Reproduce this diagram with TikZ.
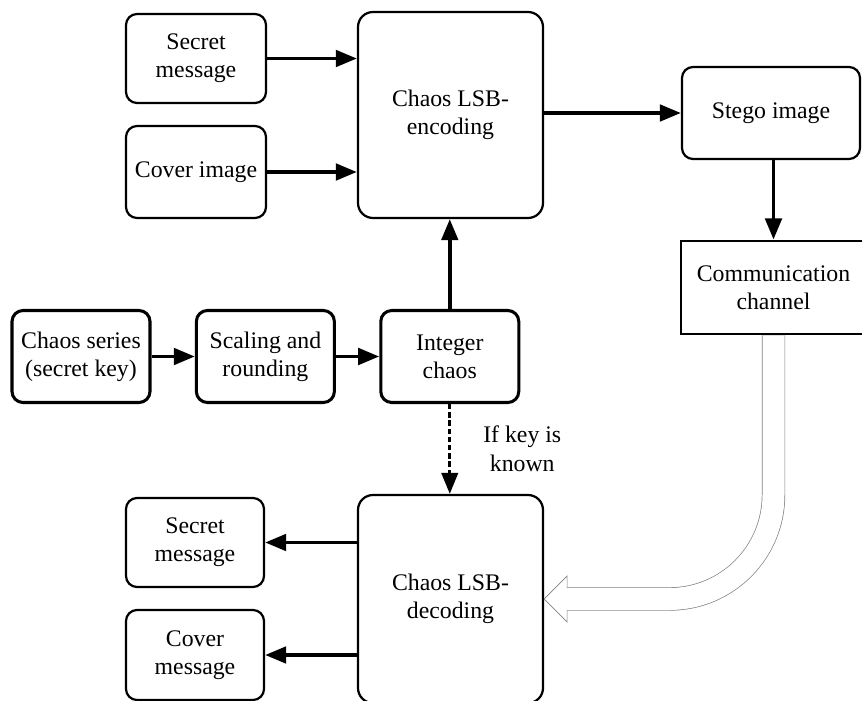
\documentclass[tikz,border=0pt]{standalone}
\usepackage{fontspec}
\setmainfont{Liberation Serif}
\usetikzlibrary{arrows.meta,positioning,calc}
\tikzset{
  % Define standard arrow tip
  >={Triangle[length=18pt,width=14pt]},
  % Define style for boxes
  box/.style={
    rectangle,
    rounded corners=0.33cm,
    draw=black, line width=1.9pt,
    minimum width=4.14cm,
    minimum height=2.67cm,
    inner sep=0pt,
    align=center,
    font=\fontsize{20.3}{24}\selectfont},
  % Define style for the chaos row
  keybox/.style={
    box,
    line width=2.6pt,
    minimum height=2.76cm},
  % Define style for the two big boxes
  bigbox/.style={
    box,
    rounded corners=0.45cm,
    minimum width=5.55cm,
    minimum height=6.2cm},
  % Define arrow style
  line/.style = {draw, ->, line width=3.2pt},
  % dashed arrow
  maybe/.style = {line, dash pattern=on 4.5pt off 2.5pt, line width=2.6pt},
  % hollow channel arrow
  pipe/.style = {draw=gray, line width=0.6pt},
}

\begin{document}
\begin{tikzpicture}[x=0.03cm, y=-0.03cm]
  \useasboundingbox (0,0) rectangle (862,701);
  % nodes
  \node[box, minimum width=4.2cm] (secret) at (196,58.5) {Secret\\message};
  \node[box, minimum width=4.2cm, minimum height=2.76cm] (cover) at (196,172) {Cover image};
  \node[bigbox, minimum height=6.18cm] (enc) at (450.5,115) {Chaos LSB-\\encoding};
  \node[box, minimum width=5.34cm, minimum height=2.76cm] (stego) at (771,113) {Stego image};
  \node[box, rounded corners=0pt, line width=2.5pt, minimum width=5.55cm, minimum height=2.79cm]
  (comm) at (773.5,287.5) {Communication\\channel};
  \node[keybox] (series) at (81,356.5) {Chaos series\\(secret key)};
  \node[keybox, right=1.3cm of series] (scale) {Scaling and\\rounding};
  \node[keybox, right=1.3cm of scale] (intchaos) {Integer\\chaos};
  \node[bigbox, minimum height=6.24cm] (dec) at (450.5,599) {Chaos LSB-\\decoding};
  \node[box] (secret2) at (195,542.5) {Secret\\message};
  \node[box, minimum height=2.7cm] (cover2) at (195,655) {Cover\\message};
  % encoding side
  \path[line] (secret) -- (secret -| enc.west);
  \path[line] (cover) -- (cover -| enc.west);
  \path[line] (stego -| enc.east) -- (stego);
  \path[line] (stego.south -| comm.south) -- (comm.north);
  \path[line] (series) -- (scale);
  \path[line] (scale) -- (intchaos);
  \path[line] (intchaos.north) -- (intchaos.north |- enc.south);
  % decoding side
  \path[maybe] (intchaos.south) -- (intchaos.south |- dec.north)
  node[midway, right=0.96cm, inner sep=0pt, align=center, font=\fontsize{20.3}{25}\selectfont]
  (txt) {If key is\\known};
  \path[line] (dec.west |- secret2) -- (secret2);
  \path[line] (dec.west |- cover2) -- (cover2);
  % channel to decoding
  \path[pipe, double=white, double distance=0.66cm, rounded corners=3.12cm]
  (comm.south) |- ($(dec.east)+(23,0)$);
  \path[pipe, fill=white] ($(dec.east)+(23,-11)$) -- ($(dec.east)+(23,-23)$) -- (dec.east)
  -- ($(dec.east)+(23,23)$) -- ($(dec.east)+(23,11)$);
\end{tikzpicture}
\end{document}
